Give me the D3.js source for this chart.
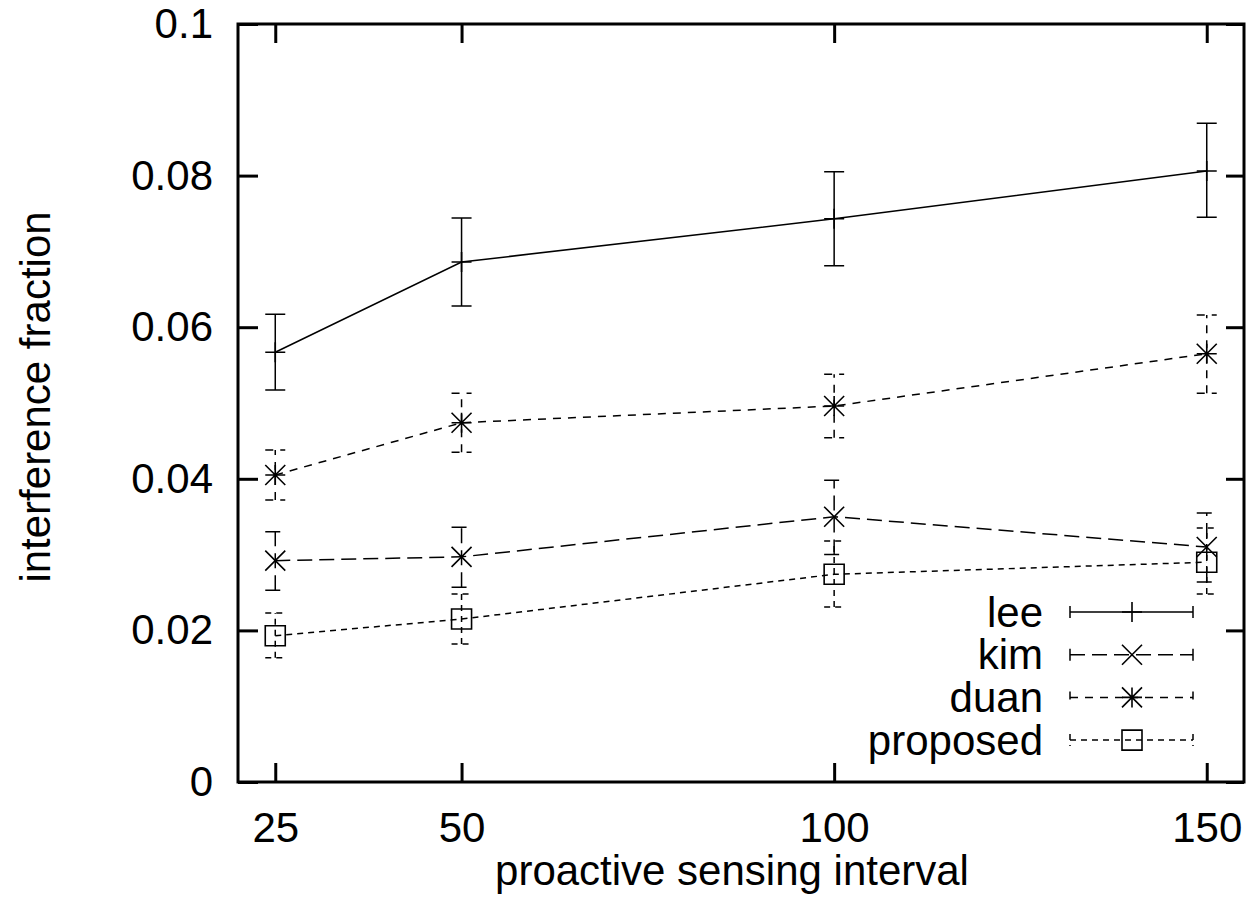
<!DOCTYPE html>
<html>
<head>
<meta charset="utf-8">
<script src="https://cdn.jsdelivr.net/npm/d3@7"></script>
<style>
body { margin:0; background:#fff; }
text { font-family: "Liberation Sans", Arial, Helvetica, sans-serif; fill:#000; }
</style>
</head>
<body>
<svg id="chart"></svg>
<script>
// data
var intervals = [25, 50, 100, 150];
var series = ["lee", "kim", "duan", "proposed"];
var leeMean = [0.0567, 0.0686, 0.0743, 0.0806];
var leeLow  = [0.0517, 0.0628, 0.0681, 0.0745];
var leeHigh = [0.0617, 0.0744, 0.0805, 0.0869];
var kimMean = [0.0292, 0.0297, 0.0350, 0.0310];
var kimLow  = [0.0253, 0.0257, 0.0300, 0.0264];
var kimHigh = [0.0330, 0.0336, 0.0398, 0.0355];
var duanMean = [0.0405, 0.0474, 0.0496, 0.0565];
var duanLow  = [0.0372, 0.0435, 0.0454, 0.0513];
var duanHigh = [0.0438, 0.0513, 0.0538, 0.0616];
var propMean = [0.0193, 0.0215, 0.0274, 0.0290];
var propLow  = [0.0164, 0.0182, 0.0231, 0.0248];
var propHigh = [0.0223, 0.0248, 0.0318, 0.0335];
var yTicks = [0, 0.02, 0.04, 0.06, 0.08, 0.1];
var yTickLabels = ["0", "0.02", "0.04", "0.06", "0.08", "0.1"];

var width = 1254, height = 914;
// plot box (note: "top" is taken by window.top, so use other names)
var pLeft = 238, pRight = 1244, pTop = 24, pBottom = 782;

var svg = d3.select("#chart").attr("width", width).attr("height", height);

var x = d3.scaleLinear().domain([20, 155]).range([pLeft, pRight]);
var y = d3.scaleLinear().domain([0, 0.1]).range([pBottom, pTop]);

var fontSize = 42;

// axes (gnuplot style, ticks inside, mirrored)
var xAxis = svg.append("g").attr("transform", "translate(0," + pBottom + ")")
  .call(d3.axisBottom(x).tickValues(intervals).tickSizeInner(-19).tickSizeOuter(0).tickPadding(30));
var yAxis = svg.append("g").attr("transform", "translate(" + pLeft + ",0)")
  .call(d3.axisLeft(y).tickValues(yTicks).tickFormat(function(d, i){ return yTickLabels[i]; })
        .tickSizeInner(-20).tickSizeOuter(0).tickPadding(25));
var xTop = svg.append("g").attr("transform", "translate(0," + pTop + ")")
  .call(d3.axisTop(x).tickValues(intervals).tickSizeInner(-19).tickSizeOuter(0).tickFormat(""));
var yRight = svg.append("g").attr("transform", "translate(" + pRight + ",0)")
  .call(d3.axisRight(y).tickValues(yTicks).tickSizeInner(-18).tickSizeOuter(0).tickFormat(""));

[xAxis, yAxis, xTop, yRight].forEach(function(a){
  a.select(".domain").remove();
  a.selectAll(".tick line").attr("stroke", "#000").attr("stroke-width", 3);
  a.selectAll(".tick text").style("font-size", fontSize + "px").attr("fill", "#000");
});

// frame
svg.append("rect")
  .attr("x", pLeft).attr("y", pTop)
  .attr("width", pRight - pLeft).attr("height", pBottom - pTop)
  .attr("fill", "none").attr("stroke", "#000").attr("stroke-width", 3);

// axis labels
svg.append("text")
  .attr("x", 732).attr("y", 885)
  .attr("text-anchor", "middle")
  .style("font-size", fontSize + "px")
  .text("proactive sensing interval");

svg.append("text")
  .attr("transform", "translate(50,397) rotate(-90)")
  .attr("text-anchor", "middle")
  .style("font-size", fontSize + "px")
  .text("interference fraction");

var dashes = { lee: null, kim: "15,7", duan: "8,7", proposed: "6,5" };
var means = { lee: leeMean, kim: kimMean, duan: duanMean, proposed: propMean };
var lows = { lee: leeLow, kim: kimLow, duan: duanLow, proposed: propLow };
var highs = { lee: leeHigh, kim: kimHigh, duan: duanHigh, proposed: propHigh };

function marker(g, name, cx, cy) {
  var m = 10;
  var p = "";
  if (name === "lee" || name === "duan") {
    p += "M" + (cx - m) + "," + cy + "H" + (cx + m) + "M" + cx + "," + (cy - m) + "V" + (cy + m);
  }
  if (name === "kim" || name === "duan") {
    p += "M" + (cx - m) + "," + (cy - m) + "L" + (cx + m) + "," + (cy + m) +
         "M" + (cx - m) + "," + (cy + m) + "L" + (cx + m) + "," + (cy - m);
  }
  if (name === "proposed") {
    p += "M" + (cx - m) + "," + (cy - m) + "h" + (2 * m) + "v" + (2 * m) + "h" + (-2 * m) + "Z";
  }
  g.append("path").attr("d", p).attr("fill", "none").attr("stroke", "#000").attr("stroke-width", 1.6);
}

var line = d3.line().x(function(d){ return x(d[0]); }).y(function(d){ return y(d[1]); });

series.forEach(function(name) {
  var g = svg.append("g");
  var pts = intervals.map(function(v, i){ return [v, means[name][i]]; });
  g.append("path").datum(pts)
    .attr("d", line)
    .attr("fill", "none").attr("stroke", "#000").attr("stroke-width", 1.5)
    .attr("stroke-dasharray", dashes[name]);
  // error bars
  intervals.forEach(function(v, i) {
    var cx = x(v), y0 = y(lows[name][i]), y1 = y(highs[name][i]);
    g.append("path")
      .attr("d", "M" + cx + "," + y0 + "V" + y1 +
                 "M" + (cx - 10) + "," + y0 + "H" + (cx + 10) +
                 "M" + (cx - 10) + "," + y1 + "H" + (cx + 10))
      .attr("fill", "none").attr("stroke", "#000").attr("stroke-width", 1.5)
      .attr("stroke-dasharray", dashes[name]);
    marker(g, name, cx, y(means[name][i]));
  });
});

// legend
var legend = svg.append("g");
series.forEach(function(name, i) {
  var ly = 612 + i * 42.7;
  legend.append("text")
    .attr("x", 1043).attr("y", ly).attr("dy", "0.35em")
    .attr("text-anchor", "end")
    .style("font-size", fontSize + "px")
    .text(name);
  legend.append("path")
    .attr("d", "M1070," + ly + "H1193M1070," + (ly - 6) + "V" + (ly + 6) + "M1193," + (ly - 6) + "V" + (ly + 6))
    .attr("fill", "none").attr("stroke", "#000").attr("stroke-width", 1.5)
    .attr("stroke-dasharray", dashes[name]);
  marker(legend, name, 1132, ly);
});
</script>
</body>
</html>
